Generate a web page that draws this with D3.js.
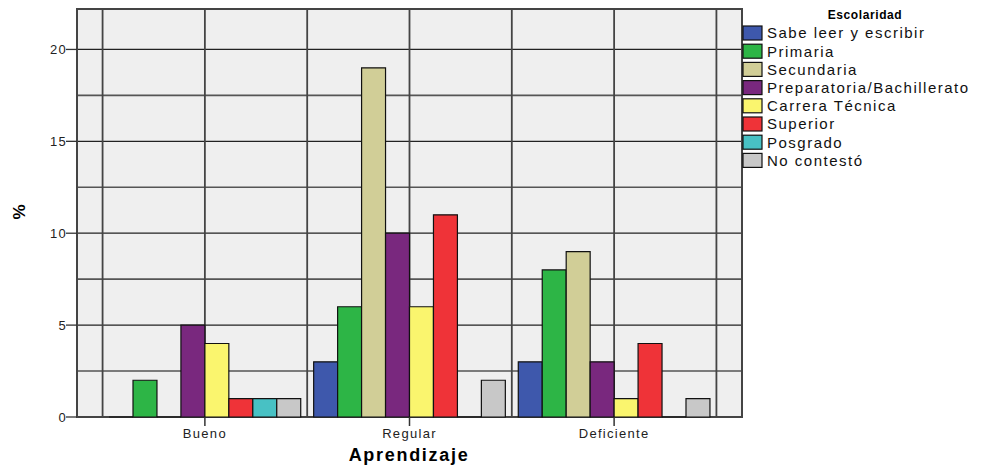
<!DOCTYPE html>
<html>
  <head>
    <meta charset="utf-8">
    <script src="https://cdn.jsdelivr.net/npm/d3@7"></script>
    <style>
      html, body { margin: 0; padding: 0; background: #fff; }
      body { font-family: 'Liberation Sans', Arial, sans-serif; }
      .tick-label { font-size: 13px; letter-spacing: 1.3px; fill: #222; }
      .legend-text { font-size: 15px; letter-spacing: 1.5px; fill: #111; }
    </style>
  </head>
  <body>
    <svg width="995" height="467"></svg>
    <script>
      // categorias y series
      const categories = ["Bueno", "Regular", "Deficiente"];
      const series = ["Sabe leer y escribir", "Primaria", "Secundaria", "Preparatoria/Bachillerato",
                      "Carrera Técnica", "Superior", "Posgrado", "No contestó"];
      const colors = ["#3e58ac", "#2db546", "#d1ce97", "#79287e", "#faf56e", "#ef3338", "#48c1c4", "#c8c8c8"];
      const bueno = [0, 2, 0, 5, 4, 1, 1, 1];
      const regular = [3, 6, 19, 10, 6, 11, 0, 2];
      const deficiente = [3, 8, 9, 3, 1, 4, 0, 1];
      const yTicks = [0, 5, 10, 15, 20];
      const yMinor = [2.5, 7.5, 12.5, 17.5];

      const values = [bueno, regular, deficiente];

      const svg = d3.select("svg");
      const mLeft = 77, mRight = 742, mTop = 9, mBottom = 417;

      const x = d3.scaleBand().domain(categories).range([mLeft, mRight]).paddingOuter(0.125).paddingInner(0);
      const xs = d3.scaleBand().domain(series).range([0, x.bandwidth()]).paddingOuter(0.27).paddingInner(0);
      const y = d3.scaleLinear().domain([0, 22.2]).range([mBottom, mTop]);

      // fondo
      svg.append("rect")
        .attr("x", mLeft).attr("y", mTop)
        .attr("width", mRight - mLeft).attr("height", mBottom - mTop)
        .attr("fill", "#efefef");

      // grilla horizontal
      svg.append("g").selectAll("line")
        .data(yMinor)
        .join("line")
        .attr("x1", mLeft).attr("x2", mRight)
        .attr("y1", d => y(d)).attr("y2", d => y(d))
        .attr("stroke", "#555").attr("stroke-width", 1.6);

      svg.append("g").selectAll("line")
        .data(yTicks.filter(d => d > 0))
        .join("line")
        .attr("x1", mLeft).attr("x2", mRight)
        .attr("y1", d => y(d)).attr("y2", d => y(d))
        .attr("stroke", "#222").attr("stroke-width", 1.3);

      // grilla vertical (bordes y centros de categoria)
      const vLines = [];
      categories.forEach(c => {
        vLines.push(x(c));
        vLines.push(x(c) + x.bandwidth() / 2);
      });
      vLines.push(x(categories[2]) + x.bandwidth());
      svg.append("g").selectAll("line")
        .data(vLines)
        .join("line")
        .attr("x1", d => d).attr("x2", d => d)
        .attr("y1", mTop).attr("y2", mBottom)
        .attr("stroke", "#444").attr("stroke-width", 1.8);

      // marco
      svg.append("rect")
        .attr("x", mLeft).attr("y", mTop)
        .attr("width", mRight - mLeft).attr("height", mBottom - mTop)
        .attr("fill", "none")
        .attr("stroke", "#444").attr("stroke-width", 2);

      // barras (path para que las barras en cero se vean como linea)
      const groups = svg.append("g").selectAll("g")
        .data(categories)
        .join("g")
        .attr("transform", d => `translate(${x(d)},0)`);

      groups.selectAll("path")
        .data((c, i) => values[i].map((v, j) => ({ s: series[j], v: v, color: colors[j] })))
        .join("path")
        .attr("d", d => {
          const x0 = xs(d.s), w = xs.bandwidth(), y0 = y(0), y1 = y(d.v);
          return `M${x0},${y0}V${y1}H${x0 + w}V${y0}Z`;
        })
        .attr("fill", d => d.color)
        .attr("stroke", "#111")
        .attr("stroke-width", 1.2);

      // eje y
      const yAxis = svg.append("g");
      yAxis.selectAll("line")
        .data(yTicks)
        .join("line")
        .attr("x1", mLeft - 11).attr("x2", mLeft)
        .attr("y1", d => y(d)).attr("y2", d => y(d))
        .attr("stroke", "#333").attr("stroke-width", 1.3);
      yAxis.selectAll("text")
        .data(yTicks)
        .join("text")
        .attr("class", "tick-label")
        .attr("x", mLeft - 10)
        .attr("y", d => y(d))
        .attr("dy", "0.35em")
        .attr("text-anchor", "end")
        .text(d => d);

      // eje x
      const xAxis = svg.append("g");
      xAxis.selectAll("line")
        .data(categories)
        .join("line")
        .attr("x1", d => x(d) + x.bandwidth() / 2).attr("x2", d => x(d) + x.bandwidth() / 2)
        .attr("y1", mBottom).attr("y2", mBottom + 9)
        .attr("stroke", "#333").attr("stroke-width", 1.5);
      xAxis.selectAll("text")
        .data(categories)
        .join("text")
        .attr("class", "tick-label")
        .attr("x", d => x(d) + x.bandwidth() / 2)
        .attr("y", 438)
        .attr("text-anchor", "middle")
        .text(d => d);

      svg.append("text")
        .attr("x", 409).attr("y", 461)
        .attr("text-anchor", "middle")
        .attr("font-size", 18).attr("font-weight", "bold")
        .attr("letter-spacing", 1.7)
        .text("Aprendizaje");

      svg.append("text")
        .attr("transform", "translate(25,212) rotate(-90)")
        .attr("text-anchor", "middle")
        .attr("font-size", 17).attr("font-weight", "bold")
        .text("%");

      // leyenda
      const legend = svg.append("g").attr("transform", "translate(743,0)");
      legend.append("text")
        .attr("x", 122).attr("y", 19)
        .attr("text-anchor", "middle")
        .attr("font-size", 12).attr("font-weight", "bold")
        .attr("letter-spacing", 0.6)
        .text("Escolaridad");
      const items = legend.selectAll("g")
        .data(series)
        .join("g")
        .attr("transform", (d, i) => `translate(0,${33 + i * 18.2})`);
      items.append("rect")
        .attr("x", 0).attr("y", -7)
        .attr("width", 19).attr("height", 14)
        .attr("fill", (d, i) => colors[i])
        .attr("stroke", "#111").attr("stroke-width", 1.2);
      items.append("text")
        .attr("class", "legend-text")
        .attr("x", 24).attr("y", 0)
        .attr("dy", "0.36em")
        .text(d => d);
    </script>
  </body>
</html>
